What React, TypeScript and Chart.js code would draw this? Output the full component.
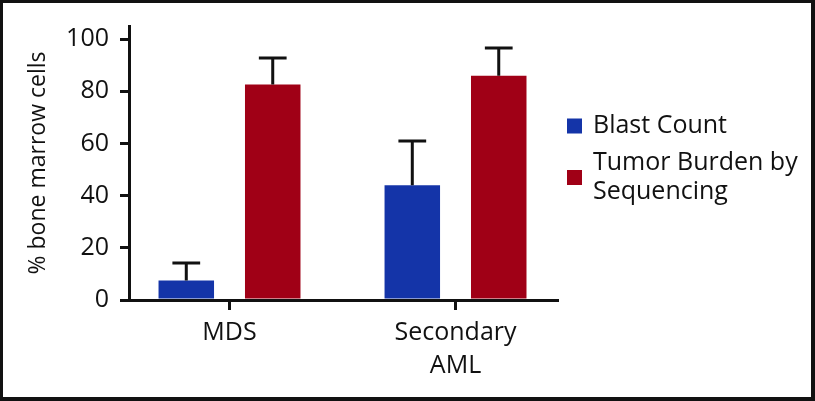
import React, { useEffect, useRef } from 'react';
import { Chart, registerables } from 'chart.js';

Chart.register(...registerables);

// ---- data ----
const categories = ['MDS', 'Secondary AML'];
const categoryTickLines = [['MDS'], ['Secondary', 'AML']];
const seriesLabels = ['Blast Count', 'Tumor Burden by Sequencing'];
const legendLines = [['Blast Count'], ['Tumor Burden by', 'Sequencing']];
const blastCount = [7.5, 44.0];
const blastCountSD = [6.7, 16.9];
const tumorBurden = [82.6, 85.9];
const tumorBurdenSD = [10.1, 10.7];
const yTicks = [0, 20, 40, 60, 80, 100];
const seriesColors = ['#1434A8', '#A00016'];

const FONT = '"Open Sans", "DejaVu Sans", sans-serif';
const W = 815;
const H = 401;

const seriesValues = [blastCount, tumorBurden];
const seriesSD = [blastCountSD, tumorBurdenSD];

const errorBarPlugin = {
  id: 'errorBars',
  afterDatasetsDraw(chart: any) {
    const ctx = chart.ctx;
    const yScale = chart.scales.y;
    ctx.save();
    ctx.strokeStyle = '#111';
    ctx.lineWidth = 3;
    ctx.lineCap = 'butt';
    chart.data.datasets.forEach((ds: any, i: number) => {
      const meta = chart.getDatasetMeta(i);
      meta.data.forEach((el: any, j: number) => {
        const top = seriesValues[i][j] + seriesSD[i][j];
        const yTop = yScale.getPixelForValue(top);
        const half = el.width / 4;
        ctx.beginPath();
        ctx.moveTo(el.x, el.y);
        ctx.lineTo(el.x, yTop);
        ctx.moveTo(el.x - half, yTop);
        ctx.lineTo(el.x + half, yTop);
        ctx.stroke();
      });
    });
    ctx.restore();
  },
};

const legendFramePlugin = {
  id: 'legendFrame',
  afterDraw(chart: any) {
    const ctx = chart.ctx;
    const { right } = chart.chartArea;
    ctx.save();
    ctx.font = `25px ${FONT}`;
    ctx.textBaseline = 'alphabetic';
    ctx.textAlign = 'left';
    const sqX = right + 10;
    const txtX = right + 36;
    const lineGap = 29;
    let baseline = 133;
    legendLines.forEach((lines, i) => {
      ctx.fillStyle = '#111';
      lines.forEach((ln, k) => ctx.fillText(ln, txtX, baseline + k * lineGap));
      const last = baseline + (lines.length - 1) * lineGap;
      const mid = (baseline + last) / 2 - 7;
      ctx.fillStyle = chart.data.datasets[i].backgroundColor;
      ctx.fillRect(sqX, mid - 7.5, 15, 15);
      baseline = last + 37;
    });
    // frame
    ctx.fillStyle = '#111';
    ctx.fillRect(0, 0, W, 3);
    ctx.fillRect(0, 0, 3, H);
    ctx.fillRect(W - 4, 0, 4, H);
    ctx.fillRect(0, H - 4, W, 4);
    ctx.restore();
  },
};

export default function App() {
  const ref = useRef<HTMLCanvasElement | null>(null);
  useEffect(() => {
    document.body.style.margin = '0';
    const canvas = ref.current;
    if (!canvas) return;
    const chart = new Chart(canvas, {
      type: 'bar',
      data: {
        datasets: seriesLabels.map((label, i) => ({
          label,
          data: seriesValues[i].map((v, j) => ({ x: j, y: v })),
          backgroundColor: seriesColors[i],
          borderWidth: 0,
          categoryPercentage: 0.765,
          barPercentage: 0.642,
        })),
      },
      options: {
        animation: false,
        responsive: false,
        devicePixelRatio: 1,
        layout: { padding: { left: 0, top: 21, right: 258, bottom: 0 } },
        plugins: {
          legend: { display: false },
          tooltip: { enabled: false },
        },
        scales: {
          x: {
            type: 'linear',
            offset: false,
            min: -0.4447,
            max: 1.449,
            afterBuildTicks: (scale: any) => {
              scale.ticks = categories.map((_, i) => ({ value: i }));
            },
            afterFit: (scale: any) => {
              scale.height = 101;
            },
            grid: {
              display: true,
              offset: false,
              drawOnChartArea: false,
              drawTicks: true,
              tickLength: 10,
              color: '#111',
              lineWidth: 3,
            },
            border: { display: true, color: '#111', width: 3 },
            ticks: {
              autoSkip: false,
              maxRotation: 0,
              padding: 6,
              color: '#111',
              font: { family: FONT, size: 25, lineHeight: 1.32 },
              callback: (v: any) => categoryTickLines[v as number] ?? '',
            },
          },
          y: {
            type: 'linear',
            min: 0,
            max: 105,
            afterBuildTicks: (scale: any) => {
              scale.ticks = yTicks.map((v) => ({ value: v }));
            },
            afterFit: (scale: any) => {
              scale.width = 129;
            },
            grid: {
              display: true,
              drawOnChartArea: false,
              drawTicks: true,
              tickLength: 9,
              color: '#111',
              lineWidth: 3,
            },
            border: { display: true, color: '#111', width: 3 },
            ticks: {
              padding: 11,
              color: '#111',
              font: { family: FONT, size: 25 },
            },
            title: {
              display: true,
              text: '% bone marrow cells',
              color: '#111',
              font: { family: FONT, size: 23 },
              padding: { top: 25, bottom: 0 },
            },
          },
        },
      },
      plugins: [errorBarPlugin, legendFramePlugin],
    } as any);
    return () => chart.destroy();
  }, []);
  return (
    <canvas
      ref={ref}
      width={W}
      height={H}
      style={{ display: 'block', width: W, height: H }}
    />
  );
}
